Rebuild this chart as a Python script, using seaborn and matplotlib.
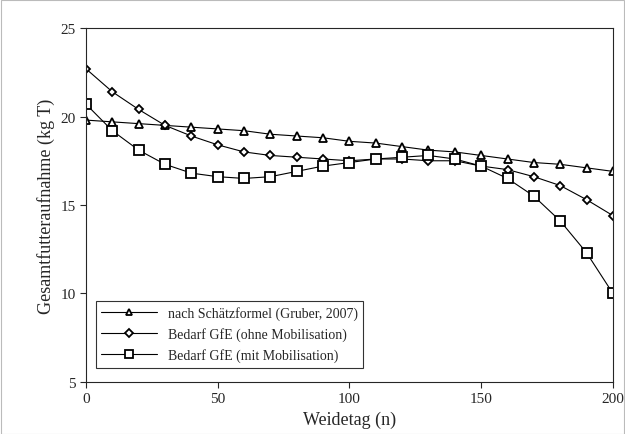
import numpy as np
import pandas as pd
import matplotlib
matplotlib.use('Agg')
import matplotlib.pyplot as plt
import seaborn as sns

sns.set_style('ticks')
plt.rcParams['font.family'] = ['Liberation Serif', 'DejaVu Serif']

tage = list(range(0, 201, 10))
gruber = [19.8, 19.7, 19.6, 19.5, 19.4, 19.3, 19.2, 19.0, 18.9, 18.8, 18.6,
          18.5, 18.3, 18.1, 18.0, 17.8, 17.6, 17.4, 17.3, 17.1, 16.9]
ohne = [22.7, 21.4, 20.4, 19.5, 18.9, 18.4, 18.0, 17.8, 17.7, 17.6, 17.5,
        17.6, 17.6, 17.5, 17.5, 17.2, 17.0, 16.6, 16.1, 15.3, 14.4]
mit = [20.7, 19.2, 18.1, 17.3, 16.8, 16.6, 16.5, 16.6, 16.9, 17.2, 17.4,
       17.6, 17.7, 17.8, 17.6, 17.2, 16.5, 15.5, 14.1, 12.3, 10.0]
labels = ['nach Schätzformel (Gruber, 2007)', 'Bedarf GfE (ohne Mobilisation)',
          'Bedarf GfE (mit Mobilisation)']

df = pd.DataFrame({'Weidetag': tage * 3,
                   'Wert': gruber + ohne + mit,
                   'Reihe': [labels[0]] * 21 + [labels[1]] * 21 + [labels[2]] * 21})

fig = plt.figure(figsize=(6.25, 4.35), dpi=100)
fig.patches.append(plt.Rectangle((0.001, 0.001), 0.997, 0.997, transform=fig.transFigure,
                                 fill=False, edgecolor='#bbbbbb', lw=0.8))
ax = fig.add_axes([0.1376, 0.12, 0.843, 0.813])
sns.lineplot(data=df, x='Weidetag', y='Wert', hue='Reihe', style='Reihe',
             palette=['black'] * 3, markers=['^', 'D', 's'], dashes=False,
             markerfacecolor='white', markeredgecolor='black',
             markeredgewidth=1.3, lw=0.8, ax=ax)
sizes = [6, 4.5, 6.5]
for line, ms in zip(ax.lines, sizes):
    line.set_markersize(ms)
ax.set_xlim(0, 200)
ax.set_ylim(5, 25)
ax.set_xticks([0, 50, 100, 150, 200])
ax.set_yticks([5, 10, 15, 20, 25])
ax.tick_params(labelsize=11, direction='out', length=4)
ax.set_xlabel('Weidetag (n)', fontsize=13)
ax.set_ylabel('Gesamtfutteraufnahme (kg T)', fontsize=13)
for s in ax.spines.values():
    s.set_visible(True)
    s.set_linewidth(0.8)
leg = ax.legend(loc='lower left', bbox_to_anchor=(0.005, 0.02), fontsize=10, frameon=True,
                fancybox=False, edgecolor='black', handlelength=4, borderpad=0.4,
                labelspacing=0.5)
for h, ms in zip(leg.legend_handles, sizes):
    h.set_markersize(ms * 0.8)
    h.set_markerfacecolor('white')
    h.set_markeredgewidth(1.3)
leg.get_frame().set_linewidth(0.8)
fig.savefig('out.png', dpi=100)
